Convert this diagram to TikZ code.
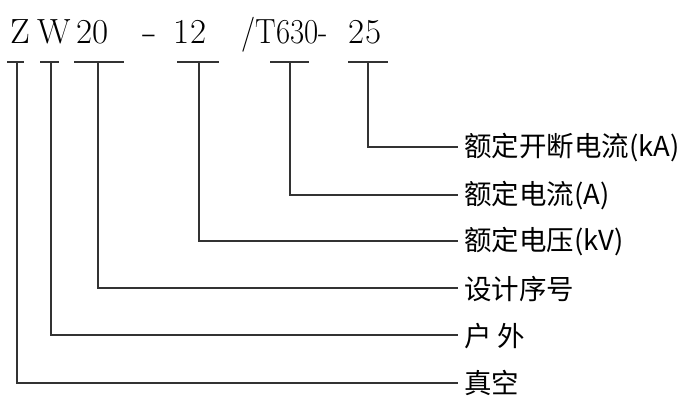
\documentclass[tikz,border=0pt]{standalone}
\usepackage{fontspec}
\newfontfamily\cjk{Noto Sans CJK SC}
\usetikzlibrary{calc}
\begin{document}
\begin{tikzpicture}[x=1pt,y=-1pt,
  codetxt/.style={font=\fontsize{35}{35}\selectfont, inner sep=0pt, anchor=base},
  lbl/.style={font=\cjk\fontsize{27.5}{30}\selectfont, inner sep=0pt, anchor=west},
  ln/.style={line width=1.2pt, draw=black!80}]
\useasboundingbox (0,0) rectangle (694,397);
% model code
\node[codetxt] (cZ)  at (20.5,43) {Z};
\node[codetxt] (cW)  at (54,43)   {W};
\node[codetxt] (c20) at (92.5,43) {20};
\node[codetxt] (cd)  at (150,43)  {\scalebox{1.4}[1]{-}};
\node[codetxt] (c12) at (190,43)  {12};
\node[codetxt] (cT)  at (285,43)  {\scalebox{0.88}[1]{/T630-}};
\node[codetxt] (c25) at (365,43)  {25};
% labels
\node[lbl] (t6) at (464,148) {额定开断电流(kA)};
\node[lbl] (t5) at (464,196) {额定电流(A)};
\node[lbl] (t4) at (464,242) {额定电压(kV)};
\node[lbl] (t3) at (464,289) {设计序号};
\node[lbl] (t2) at (464,336) {户 外};
\node[lbl] (t1) at (464,383) {真空};
% line ends
\coordinate (e6) at (458,147);
\coordinate (e5) at (458,195);
\coordinate (e4) at (458,241);
\coordinate (e3) at (458,288);
\coordinate (e2) at (458,335);
\coordinate (e1) at (458,383);
% bars
\coordinate (b1) at (17,62);  \coordinate (b1l) at (7,62);   \coordinate (b1r) at (24,62);
\coordinate (b2) at (51,62);  \coordinate (b2l) at (40,62);  \coordinate (b2r) at (59,62);
\coordinate (b3) at (98,62);  \coordinate (b3l) at (74,62);  \coordinate (b3r) at (124,62);
\coordinate (b4) at (199,62); \coordinate (b4l) at (177,62); \coordinate (b4r) at (219,62);
\coordinate (b5) at (290,62); \coordinate (b5l) at (270,62); \coordinate (b5r) at (309,62);
\coordinate (b6) at (368,62); \coordinate (b6l) at (348,62); \coordinate (b6r) at (388,62);
\foreach \i in {1,...,6}{
  \draw[ln] (b\i l) -- (b\i r);
  \draw[ln] (b\i) |- (e\i);
}
\end{tikzpicture}
\end{document}
